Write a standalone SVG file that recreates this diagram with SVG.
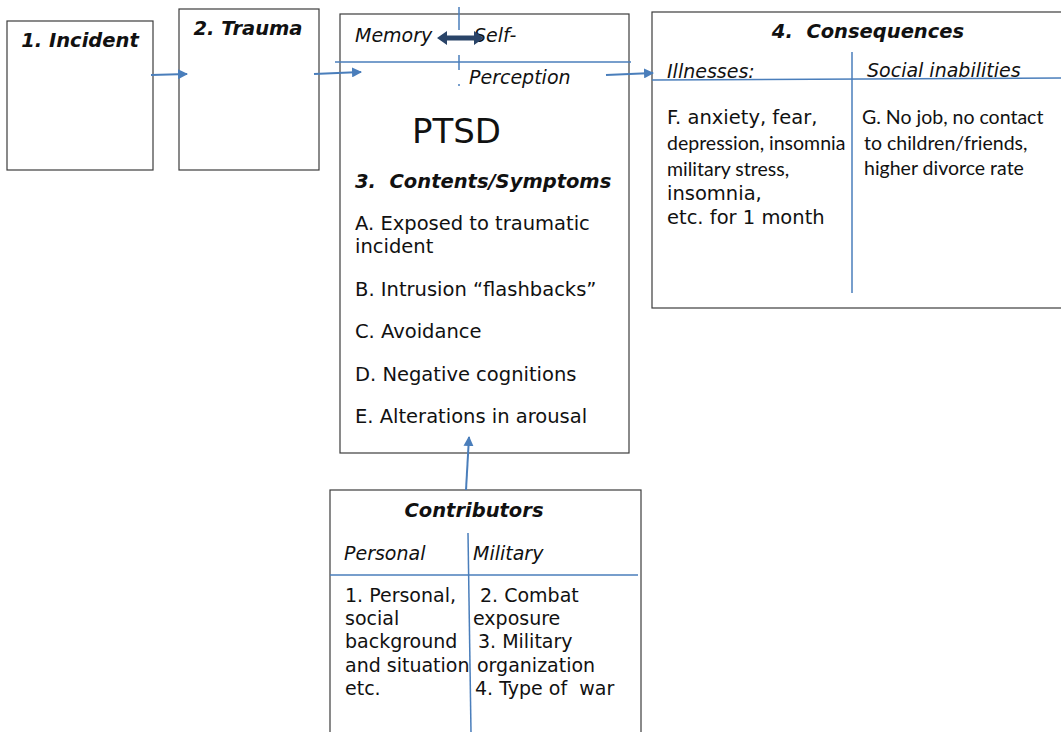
<svg xmlns="http://www.w3.org/2000/svg" width="1061" height="732" viewBox="0 0 1061 732">
  <style>
    .box { fill: #ffffff; stroke: #3c3c3c; stroke-width: 1.2; }
    .sep { stroke: #4a7ebb; stroke-width: 1.5; fill: none; }
    .conn { stroke: #4a7ebb; stroke-width: 2; fill: none; marker-end: url(#tip); }
    text { white-space: pre; }
    .v { font-family: "DejaVu Sans", Verdana, sans-serif; font-size: 19.5px; fill: #111; }
    .vs { font-family: "DejaVu Sans", Verdana, sans-serif; font-size: 19px; fill: #111; }
    .vb { font-family: "DejaVu Sans", Verdana, sans-serif; font-size: 19.5px; font-weight: bold; font-style: italic; fill: #111; }
    .vi { font-family: "DejaVu Sans", Verdana, sans-serif; font-size: 19px; font-style: italic; fill: #111; }
    .c { font-family: Lato, "Open Sans", sans-serif; font-size: 19.5px; fill: #111; }
    .big { font-family: "DejaVu Sans", Verdana, sans-serif; font-size: 34px; fill: #111; }
  </style>
  <defs>
    <marker id="tip" viewBox="0 0 10 10" refX="9" refY="5" markerWidth="5" markerHeight="5" orient="auto">
      <path d="M0,0 L10,5 L0,10 z" fill="#4a7ebb"/>
    </marker>
  </defs>
  <rect width="1061" height="732" fill="#ffffff"/>

  <g id="incident">
    <rect class="box" x="7" y="21" width="146" height="149"/>
    <text class="vb" x="80" y="47" text-anchor="middle">1. Incident</text>
  </g>

  <g id="trauma">
    <rect class="box" x="179" y="9" width="140" height="161"/>
    <text class="vb" x="248" y="35" text-anchor="middle">2. Trauma</text>
  </g>

  <g id="ptsd">
    <rect class="box" x="340" y="14" width="289" height="439"/>
    <line class="sep" x1="335" y1="62" x2="631" y2="62"/>
    <line class="sep" x1="459" y1="7" x2="459" y2="30" stroke-width="1"/>
    <line class="sep" x1="459" y1="55" x2="459" y2="70" stroke-width="1"/>
    <line class="sep" x1="459" y1="84" x2="459" y2="86" stroke-width="1"/>
    <text class="vi" x="355" y="42">Memory</text>
    <text class="vi" x="474" y="42">Self-</text>
    <path d="M437,38 L447,31 L447,35.5 L474,35.5 L474,31 L484,38 L474,45 L474,40.5 L447,40.5 L447,45 z" fill="#2a4468"/>
    <text class="vi" x="469" y="84">Perception</text>
    <text class="big" x="412" y="143">PTSD</text>
    <text class="vb" x="355" y="188">3.  Contents/Symptoms</text>
    <text class="v" x="355" y="230">A. Exposed to traumatic</text>
    <text class="v" x="355" y="253">incident</text>
    <text class="v" x="355" y="296">B. Intrusion “flashbacks”</text>
    <text class="v" x="355" y="338">C. Avoidance</text>
    <text class="v" x="355" y="381">D. Negative cognitions</text>
    <text class="v" x="355" y="423">E. Alterations in arousal</text>
  </g>

  <g id="consequences">
    <rect class="box" x="652" y="12" width="420" height="296"/>
    <line class="sep" x1="652" y1="80" x2="1061" y2="78"/>
    <line class="sep" x1="852" y1="52" x2="852" y2="293"/>
    <text class="vb" x="868" y="38" text-anchor="middle">4.  Consequences</text>
    <text class="vi" x="667" y="78">Illnesses:</text>
    <text class="vi" x="867" y="77">Social inabilities</text>
    <text class="v" x="667" y="124">F. anxiety, fear,</text>
    <text class="c" x="667" y="150">depression, insomnia</text>
    <text class="c" x="667" y="176">military stress,</text>
    <text class="v" x="667" y="200">insomnia,</text>
    <text class="v" x="667" y="224">etc. for 1 month</text>
    <text class="c" x="862" y="124">G. No job, no contact</text>
    <text class="c" x="864" y="150">to children/friends,</text>
    <text class="c" x="864" y="175">higher divorce rate</text>
  </g>

  <g id="contributors">
    <rect class="box" x="330" y="490" width="311" height="250"/>
    <line class="sep" x1="330" y1="575" x2="638" y2="575"/>
    <line class="sep" x1="468" y1="533" x2="471" y2="732"/>
    <text class="vb" x="474" y="517" text-anchor="middle">Contributors</text>
    <text class="vi" x="344" y="560">Personal</text>
    <text class="vi" x="473" y="560">Military</text>
    <text class="vs" x="345" y="602">1. Personal,</text>
    <text class="vs" x="345" y="625">social</text>
    <text class="vs" x="345" y="648">background</text>
    <text class="vs" x="345" y="672">and situation</text>
    <text class="vs" x="345" y="695">etc.</text>
    <text class="vs" x="480" y="602">2. Combat</text>
    <text class="vs" x="473" y="625">exposure</text>
    <text class="vs" x="478" y="648">3. Military</text>
    <text class="vs" x="477" y="672">organization</text>
    <text class="vs" x="475" y="695">4. Type of  war</text>
  </g>

  <g id="connectors">
    <line class="conn" x1="151" y1="75" x2="187" y2="74"/>
    <line class="conn" x1="314" y1="74" x2="361" y2="72"/>
    <line class="conn" x1="606" y1="75" x2="653" y2="73"/>
    <line class="conn" x1="466" y1="490" x2="469" y2="437"/>
  </g>
</svg>
